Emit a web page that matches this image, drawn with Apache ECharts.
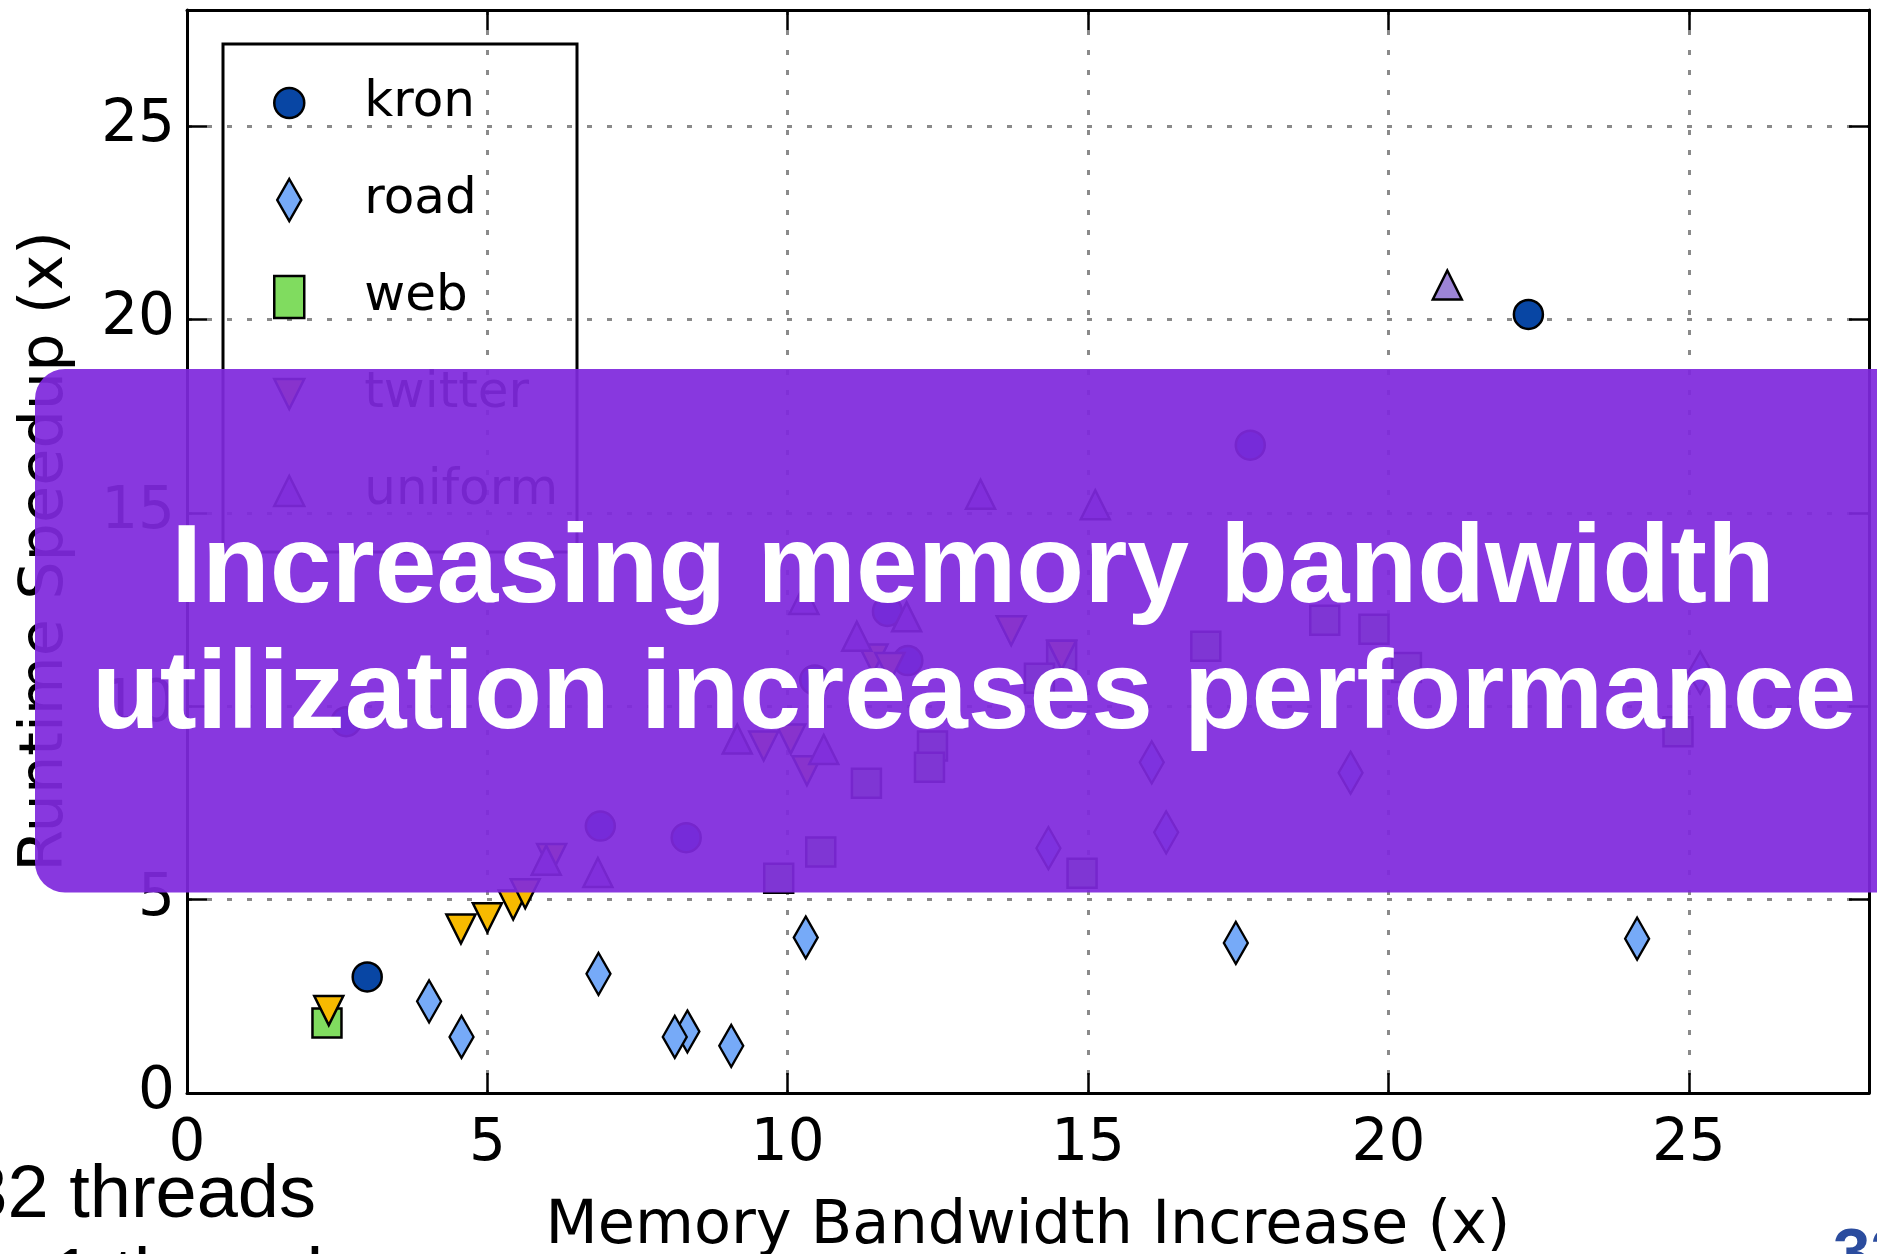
<!DOCTYPE html>
<html>
<head>
<meta charset="utf-8">
<script src="https://cdn.jsdelivr.net/npm/echarts@6/dist/echarts.min.js"></script>
<style>
html,body{margin:0;padding:0;background:#fff;}
#c{width:1877px;height:1254px;}
</style>
</head>
<body>
<div id="c"></div>
<script>
// ---- data ----
const seriesNames = ['kron', 'road', 'web', 'twitter', 'uniform'];

const kronX = [3.0, 22.33, 17.7, 6.88, 8.31, 11.66, 12.0, 10.45, 2.65];
const kronY = [3.0, 20.13, 16.75, 6.9, 6.6, 12.45, 11.18, 10.68, 9.6];

const roadX = [4.03, 4.57, 6.85, 8.33, 8.12, 9.06, 10.30, 17.46, 24.14, 16.06, 19.37, 16.3, 14.34, 25.19];
const roadY = [2.37, 1.45, 3.08, 1.59, 1.45, 1.22, 4.02, 3.88, 3.99, 8.55, 8.28, 6.74, 6.33, 10.87];

const webX = [2.33, 18.94, 19.76, 16.96, 14.56, 14.19, 12.41, 12.36, 11.31, 10.55, 9.85, 14.9, 20.3, 24.82];
const webY = [1.81, 12.22, 11.99, 11.55, 11.32, 10.72, 8.97, 8.42, 8.01, 6.23, 5.55, 5.68, 11.0, 9.34];

const twitterX = [2.36, 4.56, 5.0, 5.43, 5.63, 6.07, 9.6, 10.05, 10.32, 11.42, 11.7, 13.72, 14.56];
const twitterY = [2.13, 4.24, 4.53, 4.86, 5.15, 6.06, 8.97, 9.15, 8.33, 11.22, 11.0, 11.95, 11.32];

const uniformX = [20.98, 13.21, 15.12, 10.27, 11.98, 11.15, 9.16, 10.6, 6.84, 5.98];
const uniformY = [20.89, 15.48, 15.21, 12.76, 12.31, 11.81, 9.15, 8.88, 5.7, 6.02];

const xTicks = [0, 5, 10, 15, 20, 25];
const yTicks = [0, 5, 10, 15, 20, 25];
const axisMax = 28;

const xTitle = 'Memory Bandwidth Increase (x)';
const yTitle = 'Runtime Speedup (x)';
const bannerLine1 = 'Increasing memory bandwidth';
const bannerLine2 = 'utilization increases performance';
const noteLine1 = '32 threads';
const noteLine2 = 'vs 1 thread';
const pageNum = '32';

// ---- styles ----
const colors = {kron:'#0846A4', road:'#76AAF8', web:'#80DC5F', twitter:'#F7BA00', uniform:'#9C84D6'};
const font = 'DejaVu Sans';

function pts(xs, ys){ return xs.map((x,i)=>[x, ys[i]]); }
const edge = {borderColor:'#000', borderWidth:2.5};

const chart = echarts.init(document.getElementById('c'), null, {renderer:'canvas'});

const gridLine = {show:true, lineStyle:{color:'#8a8a8a', width:3, type:[5,15]}};

const option = {
  animation:false,
  backgroundColor:'#fff',
  grid:{left:187, top:10, width:1682, height:1083, containLabel:false, outerBoundsMode:'none'},
  xAxis:[{
    type:'value', min:0, max:axisMax, interval:5, position:'bottom',
    name:xTitle, nameLocation:'middle', nameGap:104,
    nameTextStyle:{fontFamily:font, fontSize:60.5, color:'#000'},
    axisLine:{show:true, onZero:false, lineStyle:{color:'#000', width:3}},
    axisTick:{show:true, inside:true, length:20, lineStyle:{color:'#000', width:2.5}},
    axisLabel:{show:true, margin:23, fontFamily:font, fontSize:58, color:'#000', showMaxLabel:false,
      formatter:v=> xTicks.indexOf(v)>=0 ? String(v) : ''},
    splitLine:gridLine
  },{
    type:'value', min:0, max:axisMax, interval:5, position:'top',
    axisLine:{show:true, onZero:false, lineStyle:{color:'#000', width:3}},
    axisTick:{show:true, inside:true, length:20, lineStyle:{color:'#000', width:2.5}},
    axisLabel:{show:false}, splitLine:{show:false}
  }],
  yAxis:[{
    type:'value', min:0, max:axisMax, interval:5, position:'left',
    name:yTitle, nameLocation:'middle', nameGap:110, nameRotate:90,
    nameTextStyle:{fontFamily:font, fontSize:60.5, color:'#000'},
    axisLine:{show:true, onZero:false, lineStyle:{color:'#000', width:3}},
    axisTick:{show:true, inside:true, length:20, lineStyle:{color:'#000', width:2.5}},
    axisLabel:{show:true, margin:12, fontFamily:font, fontSize:58, color:'#000', showMaxLabel:false,
      formatter:v=> yTicks.indexOf(v)>=0 ? String(v) : ''},
    splitLine:gridLine
  },{
    type:'value', min:0, max:axisMax, interval:5, position:'right',
    axisLine:{show:true, onZero:false, lineStyle:{color:'#000', width:3}},
    axisTick:{show:true, inside:true, length:20, lineStyle:{color:'#000', width:2.5}},
    axisLabel:{show:false}, splitLine:{show:false}
  }],
  legend:{
    orient:'vertical', left:273, top:78, padding:0,
    itemWidth:30, itemHeight:42, itemGap:47, selectedMode:false,
    textStyle:{fontFamily:font, fontSize:50, color:'#000', lineHeight:42, padding:[0,0,0,55]},
    data:[
      {name:'kron', icon:'circle', itemStyle:Object.assign({color:colors.kron}, edge)},
      {name:'road', icon:'path://M12,0 L24,21 L12,42 L0,21 Z', itemStyle:Object.assign({color:colors.road}, edge)},
      {name:'web', icon:'rect', itemStyle:Object.assign({color:colors.web}, edge)},
      {name:'twitter', icon:'path://M0,0 L2,0 L1,2 Z', itemStyle:Object.assign({color:colors.twitter}, edge)},
      {name:'uniform', icon:'path://M1,0 L2,2 L0,2 Z', itemStyle:Object.assign({color:colors.uniform}, edge)}
    ]
  },
  series:[
    {type:'scatter', name:'kron', data:pts(kronX,kronY), symbol:'circle', symbolSize:29,
      itemStyle:Object.assign({color:colors.kron, opacity:1}, edge), z:2},
    {type:'scatter', name:'road', data:pts(roadX,roadY), symbol:'diamond', symbolSize:[24,42],
      itemStyle:Object.assign({color:colors.road, opacity:1}, edge), z:3},
    {type:'scatter', name:'web', data:pts(webX,webY), symbol:'rect', symbolSize:29,
      itemStyle:Object.assign({color:colors.web, opacity:1}, edge), z:4},
    {type:'scatter', name:'twitter', data:pts(twitterX,twitterY), symbol:'triangle', symbolRotate:180, symbolSize:29,
      itemStyle:Object.assign({color:colors.twitter, opacity:1}, edge), z:5},
    {type:'scatter', name:'uniform', data:pts(uniformX,uniformY), symbol:'triangle', symbolSize:29,
      itemStyle:Object.assign({color:colors.uniform, opacity:1}, edge), z:6}
  ],
  graphic:[
    {type:'rect', z:100, shape:{x:223, y:44, width:354, height:508}, style:{fill:'none', stroke:'#000', lineWidth:3}},
    {type:'rect', z:1000, shape:{x:35, y:369, width:1900, height:523.5, r:30},
      style:{fill:'rgba(127,41,221,0.93)'}},
    {type:'text', z:1001, x:973, y:571, style:{text:bannerLine1, fill:'#fff',
      font:'bold 111px "Liberation Sans", Arial, sans-serif', textAlign:'center', verticalAlign:'middle'}},
    {type:'text', z:1001, x:974, y:697, style:{text:bannerLine2, fill:'#fff',
      font:'bold 111px "Liberation Sans", Arial, sans-serif', textAlign:'center', verticalAlign:'middle'}},
    {type:'text', z:1001, x:316, y:1197, style:{text:noteLine1, fill:'#000',
      font:'74px "Liberation Sans", Arial, sans-serif', textAlign:'right', verticalAlign:'middle'}},
    {type:'text', z:1001, x:-43, y:1280, style:{text:noteLine2, fill:'#000',
      font:'74px "Liberation Sans", Arial, sans-serif', textAlign:'left', verticalAlign:'middle'}},
    {type:'text', z:1001, x:1833, y:1257, style:{text:pageNum, fill:'#2B4C9E',
      font:'bold 67px "Liberation Sans", Arial, sans-serif', textAlign:'left', verticalAlign:'middle'}}
  ]
};
chart.setOption(option);
</script>
</body>
</html>
